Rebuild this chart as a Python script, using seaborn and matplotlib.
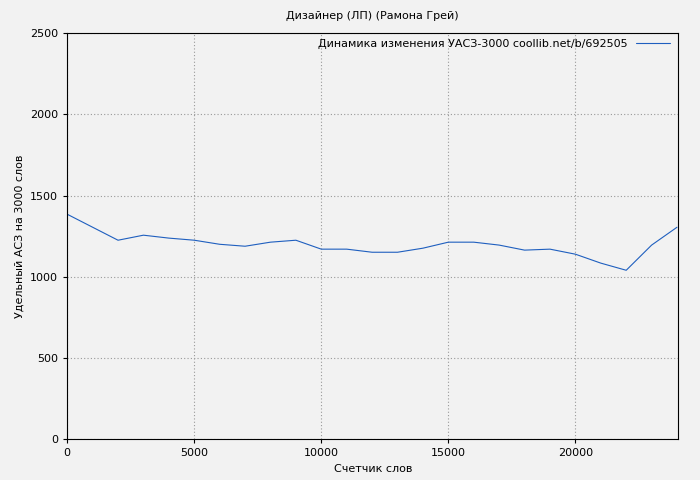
import matplotlib
matplotlib.use("Agg")
import matplotlib.pyplot as plt
import seaborn as sns
import pandas as pd

x = [0,1000,2000,3000,4000,5000,6000,7000,8000,9000,10000,11000,12000,13000,14000,15000,16000,17000,18000,19000,20000,21000,22000,23000,24000]
y = [1385,1305,1225,1256,1238,1225,1200,1188,1213,1225,1170,1170,1151,1151,1176,1213,1213,1195,1164,1170,1139,1084,1040,1195,1305]
label = "Динамика изменения УАСЗ-3000 coollib.net/b/692505"

sns.set_style("whitegrid")
plt.rcParams['font.family'] = ['DejaVu Sans']
plt.rcParams['text.color'] = 'black'
plt.rcParams['axes.labelcolor'] = 'black'
plt.rcParams['xtick.color'] = 'black'
plt.rcParams['ytick.color'] = 'black'
fig = plt.figure(figsize=(7, 4.8), dpi=100)
fig.patch.set_facecolor("#f2f2f2")
ax = fig.add_axes([0.096, 0.085, 0.873, 0.846])
ax.set_facecolor("#f2f2f2")
df = pd.DataFrame({"x": x, "y": y})
sns.lineplot(data=df, x="x", y="y", ax=ax, color="#1f5fbf", linewidth=0.8, label=label)
ax.set_xlim(0, 24050)
ax.set_ylim(0, 2500)
ax.set_xticks([0,5000,10000,15000,20000])
ax.set_yticks([0,500,1000,1500,2000,2500])
ax.grid(True, color="#999999", linestyle=(0,(1,2)), linewidth=0.8)
for s in ax.spines.values():
    s.set_visible(True); s.set_color("black"); s.set_linewidth(0.8)
ax.tick_params(labelsize=8, length=3, direction="out", left=True, bottom=True)
ax.set_xlabel("Счетчик слов", fontsize=8)
ax.set_ylabel("Удельный АСЗ на 3000 слов", fontsize=8)
ax.set_title("Дизайнер (ЛП) (Рамона Грей)", fontsize=8, pad=10)
leg = ax.legend(loc="upper right", fontsize=8, frameon=False, markerfirst=False,
                handlelength=3, borderaxespad=0.1, bbox_to_anchor=(0.995, 1.0))
fig.savefig("out.png", dpi=100, facecolor=fig.get_facecolor())
